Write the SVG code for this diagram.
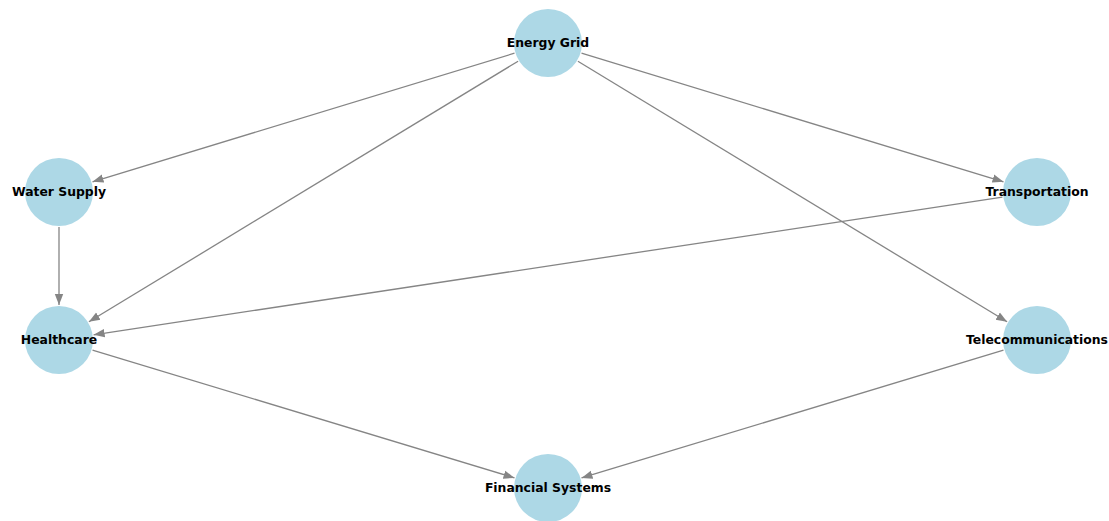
<svg xmlns="http://www.w3.org/2000/svg" width="1109" height="521" viewBox="0 0 1109 521">
<style>
.node circle{fill:#ADD8E6;}
.node text{font-family:"DejaVu Sans",sans-serif;font-weight:bold;font-size:12.4px;fill:#000;text-anchor:middle;}
.edges line{stroke:#858585;stroke-width:1.3;fill:none;marker-end:url(#arrow);}
</style>
<defs>
<marker id="arrow" markerUnits="userSpaceOnUse" markerWidth="12" markerHeight="10" viewBox="0 0 12 10" refX="11" refY="5" orient="auto">
<path d="M0,0.8 L11,5 L0,9.2 Z" fill="#858585"/>
</marker>
</defs>
<rect width="1109" height="521" fill="#fff"/>
<g id="nodes-bg">
<g id="energy-grid" class="node"><circle cx="548" cy="43" r="34"/></g>
<g id="water-supply" class="node"><circle cx="59" cy="192" r="34"/></g>
<g id="healthcare" class="node"><circle cx="59" cy="340" r="34"/></g>
<g id="transportation" class="node"><circle cx="1037" cy="192" r="34"/></g>
<g id="telecommunications" class="node"><circle cx="1037" cy="340" r="34"/></g>
<g id="financial-systems" class="node"><circle cx="548" cy="488" r="34"/></g>
</g>
<g id="connectors" class="edges">
<line x1="514.5" y1="53.2" x2="92.5" y2="181.8"/>
<line x1="518.1" y1="61.2" x2="88.9" y2="321.8"/>
<line x1="581.5" y1="53.2" x2="1003.5" y2="181.8"/>
<line x1="577.9" y1="61.2" x2="1007.1" y2="321.8"/>
<line x1="59" y1="227" x2="59" y2="305"/>
<line x1="1002.4" y1="197.2" x2="93.6" y2="334.8"/>
<line x1="92.5" y1="350.1" x2="514.5" y2="477.9"/>
<line x1="1003.5" y1="350.1" x2="581.5" y2="477.9"/>
</g>
<g id="labels">
<g id="energy-grid-label" class="node"><text x="548" y="47">Energy Grid</text></g>
<g id="water-supply-label" class="node"><text x="59" y="196">Water Supply</text></g>
<g id="healthcare-label" class="node"><text x="59" y="344">Healthcare</text></g>
<g id="transportation-label" class="node"><text x="1037" y="196">Transportation</text></g>
<g id="telecommunications-label" class="node"><text x="1037" y="344">Telecommunications</text></g>
<g id="financial-systems-label" class="node"><text x="548" y="492">Financial Systems</text></g>
</g>
</svg>
